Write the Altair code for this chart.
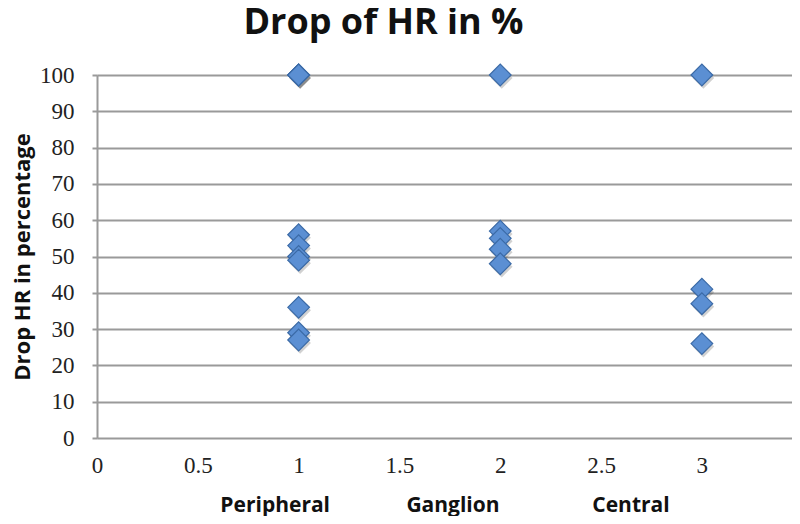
import altair as alt
import pandas as pd

group_x = [1, 2, 3]
peripheral = [100, 100, 100, 56, 53, 50, 49, 36, 29, 27]
ganglion = [100, 57, 55, 52, 48]
central = [100, 41, 37, 26]
x_ticks = [0, 0.5, 1, 1.5, 2, 2.5, 3]
y_ticks = [0, 10, 20, 30, 40, 50, 60, 70, 80, 90, 100]
category_names = ["Peripheral", "Ganglion", "Central"]

rows = []
for gx, vals in zip(group_x, [peripheral, ganglion, central]):
    for v in vals:
        rows.append({"group": gx, "drop": v})
df = pd.DataFrame(rows)

nb = "\u00a0"
x_title = category_names[0] + nb * 14 + category_names[1] + nb * 17 + category_names[2]

x_enc = alt.X(
    "group:Q",
    scale=alt.Scale(domain=[0, 3.447], nice=False, zero=False),
    axis=alt.Axis(
        values=x_ticks, title=x_title, grid=False, domain=False, ticks=False,
        labelFont="Liberation Serif", labelFontSize=23, labelColor="#222",
        labelPadding=16, titleFont="Open Sans", titleFontSize=21,
        titleFontWeight="bold", titleColor="#111", titlePadding=17,
        labelFlush=False, format="~g",
    ),
)
y_enc = alt.Y(
    "drop:Q",
    scale=alt.Scale(domain=[0, 100], nice=False),
    axis=alt.Axis(
        values=y_ticks, title="Drop HR in percentage", grid=True,
        gridColor="#9a9a9a", gridWidth=2, domain=True, domainColor="#9a9a9a",
        domainWidth=2, ticks=True, tickColor="#9a9a9a", tickSize=5, tickWidth=2,
        labelFont="Liberation Serif", labelFontSize=23, labelColor="#222",
        labelPadding=18, titleFont="Open Sans", titleFontSize=22,
        titleFontWeight="bold", titleColor="#111", titlePadding=5,
    ),
)

shadow = alt.Chart(df).mark_point(
    shape="diamond", filled=True, size=470, color="#000000", opacity=0.18
).encode(x=x_enc, y=y_enc, xOffset=alt.value(1.5), yOffset=alt.value(3))

points = alt.Chart(df).mark_point(
    shape="diamond", filled=True, size=470, fill="#5b8fd3", stroke="#3b6aa6",
    strokeWidth=1.2, opacity=1,
).encode(x=x_enc, y=y_enc)

chart = alt.layer(shadow, points).properties(
    width=695,
    height=363,
    title=alt.TitleParams(
        "Drop of HR in %", font="Open Sans", fontSize=36, fontWeight="bold",
        color="#111", anchor="middle", dx=-61, offset=20,
    ),
    autosize=alt.AutoSizeParams(type="none"),
    padding={"left": 89, "top": 67, "right": 0, "bottom": 78},
).configure_view(stroke=None).configure(background="white")

chart.save("out.html", embed_options={"renderer": "svg", "actions": False})
